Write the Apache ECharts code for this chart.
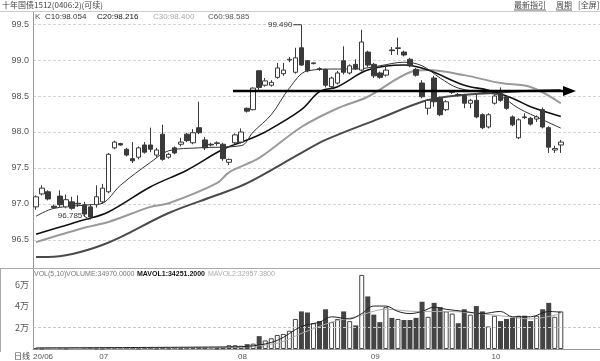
<!DOCTYPE html>
<html><head><meta charset="utf-8">
<script src="https://cdn.jsdelivr.net/npm/echarts@6/dist/echarts.min.js"></script>
<style>html,body{margin:0;padding:0;background:#fff}#c{width:600px;height:361px}</style>
</head><body><div id="c"></div>
<script>
// [open, close, low, high]
const candles = [
[96.96,97.10,96.92,97.12],[97.14,97.22,97.12,97.26],[97.17,97.07,97.05,97.19],[96.97,96.95,96.94,96.99],
[97.11,96.99,96.96,97.19],[96.96,97.06,96.94,97.13],[97.03,96.94,96.92,97.10],[97.01,97.00,96.96,97.12],
[96.99,96.86,96.83,97.03],[96.96,96.82,96.785,96.99],[96.99,97.10,96.95,97.26],[97.03,97.22,97.00,97.28],
[97.17,97.69,97.15,97.71],[97.78,97.86,97.76,97.88],[97.84,97.82,97.81,97.85],[97.76,97.68,97.66,97.78],
[97.63,97.60,97.57,97.86],[97.65,97.78,97.62,97.80],[97.82,97.72,97.70,97.86],[97.82,97.76,97.72,98.06],
[97.68,97.75,97.65,97.78],[97.97,97.62,97.60,98.10],[97.65,97.69,97.63,97.71],[97.78,97.71,97.69,97.80],
[97.83,97.86,97.80,97.92],[97.97,97.88,97.86,97.99],[97.85,97.99,97.83,98.04],[98.06,97.99,97.97,98.42],
[97.89,97.78,97.75,97.93],[97.83,97.82,97.80,97.85],[97.84,97.85,97.81,97.87],[97.83,97.63,97.60,97.85],
[97.58,97.62,97.54,97.63],[97.85,97.96,97.83,97.98],[97.86,98.00,97.84,98.05],[98.33,98.29,98.27,98.34],
[98.31,98.61,98.30,98.62],[98.85,98.62,98.56,98.86],[98.65,98.71,98.63,98.75],[98.65,98.69,98.63,98.72],
[98.76,98.89,98.74,98.96],[98.81,98.86,98.78,98.96],[99.00,99.01,98.97,99.04],[98.83,99.03,98.81,99.17],
[99.17,98.93,98.92,99.49],[98.99,98.85,98.83,99.00],[98.95,98.96,98.94,98.97],[98.88,98.87,98.85,98.90],
[98.87,98.65,98.62,98.88],[98.63,98.75,98.60,98.77],[98.68,98.82,98.66,98.85],[98.99,98.83,98.80,99.19],
[98.82,98.92,98.80,98.94],[98.94,98.88,98.86,99.01],[98.86,99.25,98.84,99.42],[99.11,98.93,98.90,99.13],
[98.94,98.78,98.75,98.96],[98.82,98.76,98.74,98.84],[98.79,98.86,98.77,98.93],[99.14,99.13,99.07,99.18],
[99.16,99.17,99.07,99.31],[99.11,99.07,99.05,99.13],[99.01,98.92,98.90,99.03],[98.87,98.79,98.77,98.89],
[98.68,98.49,98.47,98.72],[98.33,98.44,98.24,98.46],[98.75,98.42,98.35,98.78],[98.47,98.24,98.22,98.49],
[98.31,98.42,98.29,98.44],[98.55,98.56,98.53,98.58],[98.52,98.51,98.49,98.54],[98.51,98.40,98.33,98.53],
[98.40,98.44,98.33,98.46],[98.44,98.21,98.19,98.52],[98.24,98.06,98.04,98.26],[98.07,98.24,98.05,98.26],
[98.40,98.50,98.38,98.52],[98.54,98.44,98.42,98.62],[98.49,98.33,98.31,98.51],[98.21,98.10,98.08,98.23],
[97.92,98.17,97.90,98.19],[98.21,98.20,98.18,98.26],[98.19,98.11,98.09,98.21],[98.18,98.21,98.14,98.23],
[98.31,98.07,98.05,98.34],[98.06,97.79,97.71,98.08],[97.75,97.77,97.71,97.81],[97.82,97.86,97.71,97.89]
];
const volumes = [
900,400,600,300,700,500,400,300,800,1200,600,500,1500,900,700,800,1000,600,1100,900,500,1600,700,800,600,900,1000,1400,1100,600,500,1200,3500,3500,3000,4500,5000,12000,8000,10000,13000,14000,17000,28000,
35000,34000,24000,26000,37000,25000,28000,35000,26000,22000,69000,49000,32000,25000,39000,29000,28000,27000,27000,29000,44000,30000,43000,39000,35000,33000,24000,37000,32000,40000,35000,21000,31000,26000,28000,29000,31000,31000,26000,31000,37000,43000,30000,34970
];
// moving-average lines: [candle index, value]
const ma10Pts = [[0,96.83],[3,96.94],[9,96.99],[11,97.01],[14,97.26],[19,97.58],[22,97.74],[27,97.78],[34,97.81],[36,98.0],[39,98.24],[42,98.61],[45,98.85],[50,98.875],[53,98.875],[57,98.92],[61,98.97],[64,98.92],[67,98.75],[70,98.61],[75,98.54],[77,98.5],[80,98.33],[84,98.17],[87,98.054]];
const ma20Pts = [[0,96.58],[8,96.78],[12,96.89],[19,97.24],[25,97.47],[31,97.76],[35,97.89],[38,98.0],[44,98.31],[47,98.56],[50,98.63],[55,98.86],[61,98.93],[65,98.86],[71,98.65],[75,98.58],[79,98.47],[82,98.35],[87,98.216]];
const ma30Pts = [[0,96.47],[8,96.67],[12,96.75],[19,96.96],[22,97.01],[30,97.29],[32,97.44],[37,97.64],[44,98.07],[50,98.33],[55,98.49],[62,98.83],[65,98.86],[71,98.79],[77,98.68],[82,98.625],[87,98.40]];
const ma60Pts = [[0,96.264],[2,96.264],[11,96.43],[22,96.875],[30,97.125],[35,97.29],[44,97.71],[48,97.89],[57,98.19],[64,98.42],[68,98.49],[75,98.54],[81,98.57],[87,98.585]];
const mavol1Pts = [[0,1000],[32,2000],[36,3000],[40,8000],[44,21000],[47,25000],[49,30000],[52,28000],[54,33000],[56,40000],[58,40000],[60,35000],[62,33000],[64,35000],[66,39000],[68,37000],[71,35000],[74,33000],[77,35000],[79,30000],[82,30000],[85,35000],[87,34251]];
const mavol2Pts = [[0,800],[32,1500],[40,5500],[44,14500],[49,25000],[53,30000],[58,37000],[63,35000],[68,35000],[77,31000],[82,28000],[87,32900]];
const monthTickIndex = [0, 11, 34, 56, 76];
const monthTickLabels = ['20/06','07','08','09','10'];
const highIndex = 44, highValue = 99.49, lowIndex = 9, lowValue = 96.785;
const padCount = 6;

const categories = [];
for (let i = 0; i < candles.length + padCount; i++) categories.push(String(i));

const chart = echarts.init(document.getElementById('c'), null, {renderer:'canvas', width:600, height:361});
const NUM = '"Liberation Sans", Arial, sans-serif';
const CJK = '"Noto Sans CJK SC", sans-serif';

const maLine = (name, pts, color, width) => ({
  name, type:'line', xAxisIndex:0, yAxisIndex:0, data:pts, smooth:0.35, symbol:'none',
  lineStyle:{color, width}, z:3, silent:true
});

const option = {
  animation:false,
  backgroundColor:'#fff',
  grid:[
    {left:33, right:-3, top:12, height:264},
    {left:33, right:-3, top:268, height:83}
  ],
  xAxis:[
    {type:'category', gridIndex:0, data:categories, boundaryGap:true, show:false},
    {type:'category', gridIndex:1, data:categories, boundaryGap:true,
     axisLine:{show:true, lineStyle:{color:'#999'}}, axisTick:{show:false},
     axisLabel:{interval:(i)=>monthTickIndex.includes(i),
       formatter:(v,i)=>{const k=monthTickIndex.indexOf(i); return k>=0?monthTickLabels[k]:'';},
       align:'left', margin:4, fontSize:8, color:'#555', fontFamily:NUM, padding:[0,0,0,-3]}}
  ],
  yAxis:[
    {type:'value', gridIndex:0, min:96, max:99.667, interval:0.5,
     axisLine:{show:true, lineStyle:{color:'#999'}}, axisTick:{show:false},
     axisLabel:{showMinLabel:false, showMaxLabel:false, fontSize:9, color:'#555', margin:4, fontFamily:NUM, formatter:v=>v.toFixed(1)},
     splitLine:{show:true, showMinLine:false, showMaxLine:false, lineStyle:{color:'#d4d4d4', type:[3,2]}}},
    {type:'value', gridIndex:1, min:0, max:75455, interval:20000,
     axisLine:{show:true, lineStyle:{color:'#999'}}, axisTick:{show:false},
     axisLabel:{showMinLabel:false, showMaxLabel:false, fontSize:9, color:'#555', margin:4, fontFamily:CJK, formatter:v=>(v/10000)+'万'},
     splitLine:{show:false}}
  ],
  series:[
    {type:'candlestick', xAxisIndex:0, yAxisIndex:0, data:candles, barWidth:5, z:4,
     itemStyle:{color:'#fff', color0:'#3a3a3a', borderColor:'#3a3a3a', borderColor0:'#3a3a3a', borderWidth:1}},
    maLine('C60', ma60Pts, '#4a4a4a', 2),
    maLine('C30', ma30Pts, '#9a9a9a', 2),
    maLine('C20', ma20Pts, '#111', 1.6),
    maLine('C10', ma10Pts, '#333', 1),
    {type:'bar', xAxisIndex:1, yAxisIndex:1, barWidth:5, z:3,
     data:volumes.map((v,i)=>{const c=candles[i]; const up=c[1]>=c[0];
       return {value:v, itemStyle: up?{color:'#fff', borderColor:'#444', borderWidth:1}:{color:'#444'}};}),
     markLine:{symbol:'none', silent:true, label:{show:false}, lineStyle:{type:[3,2], color:'#c8c8c8', width:1}, data:[{yAxis:20000}]}},
    {type:'line', xAxisIndex:1, yAxisIndex:1, data:mavol2Pts, smooth:0.35, symbol:'none', lineStyle:{color:'#aaa', width:1}, z:5},
    {type:'line', xAxisIndex:1, yAxisIndex:1, data:mavol1Pts, smooth:0.35, symbol:'none', lineStyle:{color:'#222', width:1}, z:6}
  ]
};
chart.setOption(option);

const hi = chart.convertToPixel({gridIndex:0}, [highIndex, highValue]);
const lo = chart.convertToPixel({gridIndex:0}, [lowIndex, lowValue]);
const txt = (text, x, y, fill, size, family, align, weight) => ({type:'text', z:20, style:{text, x, y, fill, font:(weight||'normal')+' '+size+'px '+family, textAlign:align||'left', textVerticalAlign:'middle'}});
const ln = (x1,y1,x2,y2,color,w) => ({type:'line', z:19, shape:{x1,y1,x2,y2}, style:{stroke:color, lineWidth:w||1}});

chart.setOption({graphic:[
  txt('十年国债1512(0406:2)(可续)', 2, 5, '#444', 8, CJK),
  txt('最新指引', 514, 5, '#444', 8, CJK), ln(514,10,546,10,'#666'),
  txt('周期', 556, 5, '#444', 8, CJK), ln(556,10,572,10,'#666'),
  txt('[全屏]', 578, 5, '#444', 8, CJK),
  ln(0,11.5,600,11.5,'#ccc'),
  txt('K', 35, 17, '#555', 8, NUM),
  txt('C10:98.054', 45, 17, '#333', 8, NUM),
  txt('C20:98.216', 97, 17, '#111', 8, NUM),
  txt('C30:98.400', 153, 17, '#aaa', 8, NUM),
  txt('C60:98.585', 208, 17, '#555', 8, NUM),
  ln(0,268.5,600,268.5,'#aaa'), ln(0.5,268,0.5,352,'#aaa'),
  txt('VOL(5,10)', 34, 274, '#777', 7, NUM),
  txt('VOLUME:34970.0000', 66, 274, '#777', 7, NUM),
  txt('MAVOL1:34251.2000', 137, 274, '#111', 7, NUM, 'left', 'bold'),
  txt('MAVOL2:32957.3800', 208, 274, '#aaa', 7, NUM),
  txt('日线', 14, 356, '#444', 8, CJK),
  txt('99.490', hi[0]-9, hi[1], '#333', 8, NUM, 'right'), ln(hi[0]-8, hi[1], hi[0], hi[1], '#333'),
  txt('96.785', lo[0]-8, lo[1]-4, '#333', 8, NUM, 'right'), ln(lo[0]-7, lo[1]-4, lo[0]-1, lo[1], '#333'),
  ln(233, 91, 566, 91, '#000', 2.5),
  {type:'polygon', z:21, shape:{points:[[563,86],[576,91],[563,96]]}, style:{fill:'#000'}}
]});
</script></body></html>
